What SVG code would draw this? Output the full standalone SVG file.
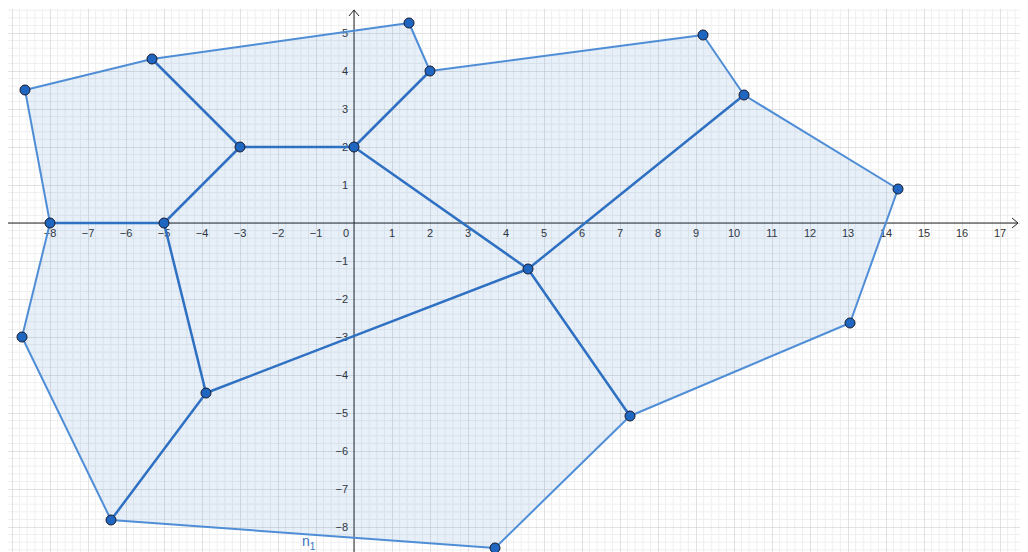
<svg xmlns="http://www.w3.org/2000/svg" width="1028" height="552" viewBox="0 0 1028 552">
<style>
.lbl{font-family:"Liberation Sans",Arial,sans-serif;font-size:11px;fill:#333}
.xl{text-anchor:middle}
.yl{text-anchor:end}
.outer{fill:none;stroke:#4f8ed6;stroke-width:2;stroke-linejoin:round}
.inner{stroke:#2e70c2;stroke-width:2.5;stroke-linecap:round}
.pt{fill:#1e66c0;stroke:#1a1a2e;stroke-width:1}
.axis{stroke:#252525;stroke-width:1;fill:none}
</style>
<defs>
<pattern id="grid" patternUnits="userSpaceOnUse" x="354" y="223" width="38" height="38">
<path d="M7.6 0V38M15.2 0V38M22.8 0V38M30.4 0V38M0 7.6H38M0 15.2H38M0 22.8H38M0 30.4H38" stroke="#efefef" stroke-width="1" fill="none"/>
<path d="M0 0V38M0 0H38" stroke="#c6c6c6" stroke-width="1" fill="none"/>
</pattern>
</defs>
<rect width="1028" height="552" fill="#fff"/>
<rect x="8" y="9" width="1012" height="543" fill="url(#grid)"/>
<g id="axes">
<path class="axis" d="M8 223H1018M1012 218L1018 223L1012 228"/>
<path class="axis" d="M354 552V10M349 16L354 10L359 16"/>
</g>
<g id="xlabels" class="lbl xl">
<text x="50" y="237">−8</text><text x="88" y="237">−7</text><text x="126" y="237">−6</text><text x="164" y="237">−5</text>
<text x="202" y="237">−4</text><text x="240" y="237">−3</text><text x="278" y="237">−2</text><text x="316" y="237">−1</text>
<text x="346" y="237">0</text>
<text x="392" y="237">1</text><text x="430" y="237">2</text><text x="468" y="237">3</text><text x="506" y="237">4</text>
<text x="544" y="237">5</text><text x="582" y="237">6</text><text x="620" y="237">7</text><text x="658" y="237">8</text>
<text x="696" y="237">9</text><text x="734" y="237">10</text><text x="772" y="237">11</text><text x="810" y="237">12</text>
<text x="848" y="237">13</text><text x="886" y="237">14</text><text x="924" y="237">15</text><text x="962" y="237">16</text>
<text x="1000" y="237">17</text>
</g>
<g id="ylabels" class="lbl yl">
<text x="348" y="37">5</text><text x="348" y="75">4</text><text x="348" y="113">3</text><text x="348" y="151">2</text><text x="348" y="189">1</text>
<text x="348" y="265">−1</text><text x="348" y="303">−2</text><text x="348" y="341">−3</text><text x="348" y="379">−4</text>
<text x="348" y="417">−5</text><text x="348" y="455">−6</text><text x="348" y="493">−7</text><text x="348" y="531">−8</text>
</g>
<g id="polygon">
<polygon points="25,90 152,59 409,23 430,71 703,35 744,95 898,189 850,323 630,416 495,548 111,520 22,337 50,223" fill="#1565c0" fill-opacity="0.1" stroke="none"/>
<polygon class="outer" points="25,90 152,59 409,23 430,71 703,35 744,95 898,189 850,323 630,416 495,548 111,520 22,337 50,223"/>
</g>
<g id="connectors">
<line class="inner" x1="152" y1="59" x2="240" y2="147"/>
<line class="inner" x1="240" y1="147" x2="354" y2="147"/>
<line class="inner" x1="354" y1="147" x2="430" y2="71"/>
<line class="inner" x1="240" y1="147" x2="164" y2="223"/>
<line class="inner" x1="164" y1="223" x2="50" y2="223"/>
<line class="inner" x1="164" y1="223" x2="206" y2="393"/>
<line class="inner" x1="206" y1="393" x2="111" y2="520"/>
<line class="inner" x1="206" y1="393" x2="528" y2="269"/>
<line class="inner" x1="354" y1="147" x2="528" y2="269"/>
<line class="inner" x1="528" y1="269" x2="744" y2="95"/>
<line class="inner" x1="528" y1="269" x2="630" y2="416"/>
</g>
<g id="points">
<circle id="A" class="pt" cx="409" cy="23" r="5"/>
<circle id="B" class="pt" cx="430" cy="71" r="5"/>
<circle id="C" class="pt" cx="354" cy="147" r="5"/>
<circle id="D" class="pt" cx="240" cy="147" r="5"/>
<circle id="E" class="pt" cx="152" cy="59" r="5"/>
<circle id="F" class="pt" cx="25" cy="90" r="5"/>
<circle id="G" class="pt" cx="50" cy="223" r="5"/>
<circle id="H" class="pt" cx="164" cy="223" r="5"/>
<circle id="I" class="pt" cx="22" cy="337" r="5"/>
<circle id="J" class="pt" cx="206" cy="393" r="5"/>
<circle id="K" class="pt" cx="111" cy="520" r="5"/>
<circle id="L" class="pt" cx="495" cy="548" r="5"/>
<circle id="M" class="pt" cx="528" cy="269" r="5"/>
<circle id="N" class="pt" cx="630" cy="416" r="5"/>
<circle id="O" class="pt" cx="850" cy="323" r="5"/>
<circle id="P" class="pt" cx="898" cy="189" r="5"/>
<circle id="Q" class="pt" cx="744" cy="95" r="5"/>
<circle id="R" class="pt" cx="703" cy="35" r="5"/>
</g>
<g id="label-n1">
<text x="302" y="546" font-family="Liberation Sans,Arial,sans-serif" font-size="14" fill="#3a74c4">n<tspan font-size="10" dy="4">1</tspan></text>
</g>
</svg>
